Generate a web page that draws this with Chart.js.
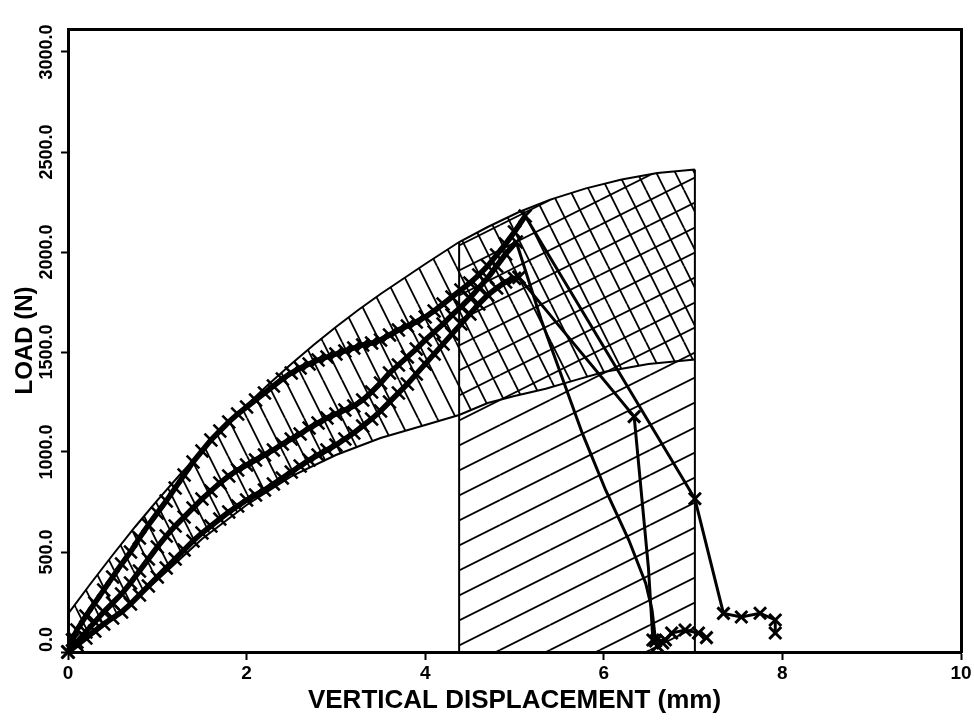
<!DOCTYPE html>
<html>
<head>
<meta charset="utf-8">
<title>Load vs vertical displacement</title>
<script src="https://cdn.jsdelivr.net/npm/chart.js@4.4.1/dist/chart.umd.min.js"></script>
<style>
  html, body { margin: 0; padding: 0; background: #ffffff; }
  canvas { display: block; }
</style>
</head>
<body>
<canvas id="chart" width="974" height="721"></canvas>
<script>
// ---- axis ticks ----
const xTickValues = [0, 2, 4, 6, 8, 10];
const yTickValues = [0, 500, 1000, 1500, 2000, 2500, 3000];

// ---- envelope band (displacement mm, load N) ----
const upperEdge = [
  [0, 190], [0.25, 340], [0.5, 485], [0.75, 625], [1.0, 758], [1.25, 885],
  [1.5, 1005], [1.75, 1120], [2.0, 1235], [2.25, 1340], [2.5, 1440],
  [2.75, 1535], [3.0, 1625], [3.25, 1710], [3.5, 1790], [3.75, 1865],
  [4.0, 1940], [4.38, 2050], [4.7, 2125], [5.05, 2200], [5.4, 2262],
  [5.8, 2318], [6.2, 2362], [6.6, 2395], [7.02, 2413]
];
const lowerEdge = [
  [0, 0], [0.5, 165], [1.0, 360], [1.5, 565], [2.0, 735], [2.5, 878],
  [3.0, 985], [3.5, 1070], [4.0, 1135], [4.38, 1185], [4.7, 1245],
  [5.0, 1280], [5.35, 1316], [5.7, 1362], [6.0, 1400], [6.5, 1440],
  [7.02, 1462]
];
// failure zone limits (mm)
const zoneStart = 4.38;
const zoneEnd = 7.02;

// ---- loading curves ----
const specimen1 = [
  [0, 0], [0.05, 60], [0.1, 110], [0.2, 180], [0.3, 245], [0.4, 310], [0.5, 375],
  [0.6, 440], [0.7, 500], [0.8, 570], [0.9, 635], [1.0, 695], [1.1, 755],
  [1.2, 820], [1.3, 885], [1.4, 950], [1.5, 1005], [1.6, 1060], [1.7, 1105],
  [1.8, 1150], [1.9, 1190], [2.0, 1225], [2.1, 1260], [2.2, 1295], [2.3, 1330],
  [2.4, 1365], [2.5, 1395], [2.6, 1420], [2.7, 1440], [2.8, 1460], [2.9, 1475],
  [3.0, 1490], [3.1, 1505], [3.2, 1520], [3.3, 1535], [3.4, 1545], [3.5, 1560],
  [3.6, 1585], [3.7, 1610], [3.8, 1630], [3.9, 1650], [4.0, 1675], [4.1, 1705],
  [4.2, 1740], [4.3, 1775], [4.4, 1810], [4.5, 1845], [4.6, 1885], [4.7, 1930],
  [4.8, 1985], [4.9, 2040], [5.0, 2100], [5.12, 2180]
];
const specimen2 = [
  [0, 0], [0.1, 50], [0.2, 100], [0.3, 150], [0.4, 200], [0.5, 245], [0.6, 290],
  [0.7, 345], [0.8, 405], [0.9, 465], [1.0, 525], [1.1, 580], [1.2, 630],
  [1.3, 675], [1.4, 720], [1.5, 765], [1.6, 805], [1.7, 845], [1.8, 880],
  [1.9, 910], [2.0, 935], [2.1, 960], [2.2, 985], [2.3, 1010], [2.4, 1040],
  [2.5, 1065], [2.6, 1090], [2.7, 1120], [2.8, 1145], [2.9, 1170], [3.0, 1190],
  [3.1, 1210], [3.2, 1230], [3.3, 1260], [3.4, 1300], [3.5, 1345], [3.6, 1395],
  [3.7, 1435], [3.8, 1475], [3.9, 1515], [4.0, 1560], [4.1, 1600], [4.2, 1640],
  [4.3, 1685], [4.4, 1725], [4.5, 1770], [4.6, 1820], [4.7, 1870], [4.8, 1930],
  [4.9, 1990], [5.02, 2050]
];
const specimen3 = [
  [0, 0], [0.1, 35], [0.2, 70], [0.3, 105], [0.4, 140], [0.5, 170], [0.6, 200],
  [0.7, 240], [0.8, 285], [0.9, 330], [1.0, 375], [1.1, 420], [1.2, 465],
  [1.3, 510], [1.4, 555], [1.5, 595], [1.6, 630], [1.7, 665], [1.8, 700],
  [1.9, 730], [2.0, 760], [2.1, 785], [2.2, 810], [2.3, 840], [2.4, 870],
  [2.5, 900], [2.6, 930], [2.7, 960], [2.8, 985], [2.9, 1010], [3.0, 1035],
  [3.1, 1065], [3.2, 1095], [3.3, 1130], [3.4, 1165], [3.5, 1205], [3.6, 1250],
  [3.7, 1295], [3.8, 1340], [3.9, 1390], [4.0, 1440], [4.1, 1490], [4.2, 1540],
  [4.3, 1590], [4.4, 1640], [4.5, 1690], [4.6, 1740], [4.7, 1785], [4.8, 1820],
  [4.9, 1850], [5.0, 1868], [5.05, 1873]
];

// ---- post-peak unloading paths ----
const postPeak1 = [[5.12, 2180], [7.02, 766], [7.34, 193], [7.54, 175], [7.75, 194], [7.92, 160], [7.92, 95]];
const postPeak1Marks = [1, 2, 3, 4, 5, 6];
const postPeak2 = [
  [5.02, 2050], [5.30, 1660], [5.53, 1376], [5.76, 1093], [6.02, 810], [6.28, 560],
  [6.47, 343], [6.54, 210], [6.58, 55], [6.69, 60], [6.76, 95], [6.91, 110],
  [7.06, 95], [7.15, 72]
];
const postPeak2Marks = [8, 9, 10, 11, 12, 13];
const postPeak3 = [[5.05, 1873], [6.34, 1177], [6.50, 420], [6.55, 60], [6.60, 30], [6.66, 45]];
const postPeak3Marks = [1, 3, 4, 5];

// ---- hatching patterns ----
function hatchPattern(w, h, segments) {
  const c = document.createElement('canvas');
  c.width = w; c.height = h;
  const g = c.getContext('2d');
  g.strokeStyle = '#000';
  g.lineWidth = 1.8;
  g.beginPath();
  segments.forEach(([x1, y1, x2, y2]) => { g.moveTo(x1, y1); g.lineTo(x2, y2); });
  g.stroke();
  return g.createPattern(c, 'repeat');
}
const steepHatch = hatchPattern(19, 38, [[-19, 0, 0, 38], [0, 0, 19, 38], [19, 0, 38, 38]]);
const shallowHatch = hatchPattern(50, 25, [[0, 0, 50, -25], [0, 25, 50, 0], [0, 50, 50, 25]]);

const pts = arr => arr.map(([x, y]) => ({ x, y }));

// closed outlines for the two hatched areas
const bandOutline = upperEdge.concat(lowerEdge.slice().reverse());
const zoneTop = upperEdge.filter(([x]) => x >= zoneStart && x <= zoneEnd);
const zoneOutline = [[zoneStart, 0]].concat(zoneTop, [[zoneEnd, 0]]);
const zoneStartLine = [[zoneStart, 0], zoneTop[0]];
const zoneEndLine = [[zoneEnd, 0], zoneTop[zoneTop.length - 1]];

const areaStyle = (data, pattern) => ({
  data: pts(data), fill: 'shape', backgroundColor: pattern,
  borderWidth: 0, borderColor: 'rgba(0,0,0,0)', pointRadius: 0, order: 20
});
const edgeStyle = data => ({
  data: pts(data), fill: false, borderColor: '#000', borderWidth: 2,
  pointRadius: 0, order: 10
});
const curveStyle = data => ({
  data: pts(data), fill: false, borderColor: '#000', borderWidth: 5.5,
  pointStyle: 'crossRot', pointRadius: 9, pointBorderWidth: 2.6,
  pointBorderColor: '#000', pointBackgroundColor: '#000', clip: false, order: 1
});
const pathStyle = (data, marks) => ({
  data: pts(data), fill: false, borderColor: '#000', borderWidth: 3,
  pointStyle: 'crossRot',
  pointRadius: c => (marks.includes(c.dataIndex) ? 8.5 : 0),
  pointBorderWidth: 3, pointBorderColor: '#000', clip: false, order: 2
});

const datasets = [
  areaStyle(bandOutline, steepHatch),
  areaStyle(zoneOutline, shallowHatch),
  edgeStyle(upperEdge),
  edgeStyle(lowerEdge),
  edgeStyle(zoneStartLine),
  edgeStyle(zoneEndLine),
  curveStyle(specimen1),
  curveStyle(specimen2),
  curveStyle(specimen3),
  pathStyle(postPeak1, postPeak1Marks),
  pathStyle(postPeak2, postPeak2Marks),
  pathStyle(postPeak3, postPeak3Marks)
];

// vertical (rotated) load tick labels
const rotatedLoadLabels = {
  id: 'rotatedLoadLabels',
  afterDraw(chart) {
    const s = chart.scales.y;
    const area = chart.chartArea;
    const ctx = chart.ctx;
    ctx.save();
    ctx.font = 'bold 18px "Liberation Sans", Arial, sans-serif';
    ctx.fillStyle = '#000';
    ctx.textAlign = 'center';
    ctx.textBaseline = 'middle';
    s.ticks.forEach(t => {
      const text = t.value.toFixed(1);
      const half = ctx.measureText(text).width / 2;
      const py = Math.min(s.getPixelForValue(t.value), area.bottom - half);
      ctx.save();
      ctx.translate(47, py);
      ctx.rotate(-Math.PI / 2);
      ctx.fillText(text, 0, 0);
      ctx.restore();
    });
    ctx.restore();
  }
};

const frameScale = (position, size) => ({
  type: 'linear', position, display: true,
  ticks: { display: false },
  grid: { drawOnChartArea: false, drawTicks: false },
  border: { display: true, width: 3, color: '#000' },
  afterFit: s => { if (s.isHorizontal()) s.height = size; else s.width = size; }
});

new Chart(document.getElementById('chart'), {
  type: 'line',
  data: { datasets },
  plugins: [rotatedLoadLabels],
  options: {
    responsive: false,
    animation: false,
    events: [],
    layout: { padding: 0 },
    elements: { line: { tension: 0 } },
    plugins: { legend: { display: false }, tooltip: { enabled: false } },
    scales: {
      x: {
        type: 'linear', position: 'bottom', min: 0, max: 10,
        afterBuildTicks: s => { s.ticks = xTickValues.map(v => ({ value: v })); },
        afterFit: s => { s.height = 69; },
        grid: { drawOnChartArea: false, drawTicks: true, tickLength: 8, tickWidth: 2, tickColor: '#000' },
        border: { display: true, width: 3, color: '#000' },
        ticks: {
          color: '#000', padding: 2, maxRotation: 0, autoSkip: false,
          font: { family: '"Liberation Sans Narrow", "Liberation Sans", Arial, sans-serif', size: 19, weight: 'bold' },
          callback: v => String(v)
        },
        title: {
          display: true, text: 'VERTICAL DISPLACEMENT (mm)', color: '#000',
          font: { family: '"Liberation Sans", Arial, sans-serif', size: 26, weight: 'bold' },
          padding: { top: 0, bottom: 5 }
        }
      },
      y: {
        type: 'linear', position: 'left', min: 0, max: 3115,
        afterBuildTicks: s => { s.ticks = yTickValues.map(v => ({ value: v })); },
        afterFit: s => { s.width = 68; },
        grid: { drawOnChartArea: false, drawTicks: true, tickLength: 7, tickWidth: 2, tickColor: '#000' },
        border: { display: true, width: 3, color: '#000' },
        ticks: { display: false },
        title: {
          display: true, text: 'LOAD (N)', color: '#000',
          font: { family: '"Liberation Sans", Arial, sans-serif', size: 24, weight: 'bold' },
          padding: { top: 11, bottom: 0 }
        }
      },
      x2: frameScale('top', 29),
      y2: frameScale('right', 13)
    }
  }
});
</script>
</body>
</html>
